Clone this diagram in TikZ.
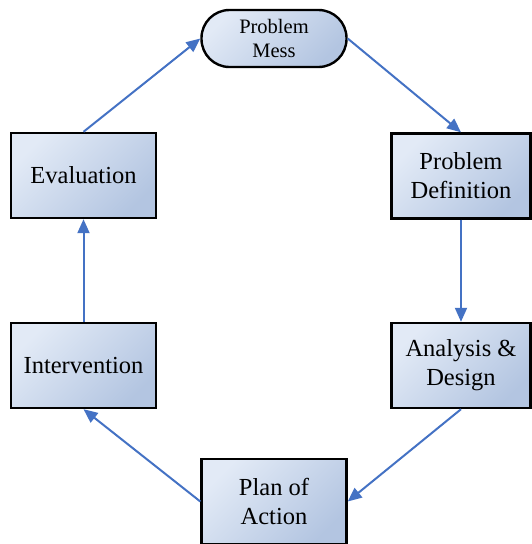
\documentclass[tikz,border=0pt]{standalone}
\usepackage{fontspec}
\setmainfont{Liberation Serif}
\usetikzlibrary{arrows.meta}
\definecolor{boxlight}{HTML}{E2EAF6}
\definecolor{boxdark}{HTML}{B3C5E1}
\definecolor{flow}{HTML}{4472C4}
\tikzset{
  stage/.style={draw=black, line width=2.4pt, align=center,
    top color=boxlight, bottom color=boxdark, shading angle=45,
    minimum width=145pt, minimum height=85pt, inner sep=2pt,
    font=\fontsize{24.5}{29}\selectfont},
  narrowstage/.style={stage, minimum width=139pt},
  startbox/.style={stage, minimum height=57pt, rounded corners=28pt,
    font=\fontsize{20.5}{24}\selectfont},
  flowarrow/.style={draw=flow, line width=2pt,
    -{Triangle[length=14pt,width=12pt]}}
}
\begin{document}
\begin{tikzpicture}[x=1pt,y=-1pt]
  \useasboundingbox (0,0) rectangle (531,544);
  \node[startbox]    (mess) at (274,38.5)  {Problem\\Mess};
  \node[narrowstage] (def)  at (461,176)   {Problem\\Definition};
  \node[narrowstage] (ana)  at (461,365.5) {Analysis \&\\Design};
  \node[stage]       (plan) at (274,501.5) {Plan of\\Action};
  \node[stage]       (int)  at (83.5,365.5) {Intervention};
  \node[stage]       (eval) at (83.5,175.5) {Evaluation};

  \draw[flowarrow] (eval.north) -- (mess.west);
  \draw[flowarrow] (mess.east) -- (def.north);
  \draw[flowarrow] (def.south) -- (ana.north);
  \draw[flowarrow] (ana.south) -- (plan.east);
  \draw[flowarrow] (plan.west) -- (int.south);
  \draw[flowarrow] (int.north) -- (eval.south);
\end{tikzpicture}
\end{document}
